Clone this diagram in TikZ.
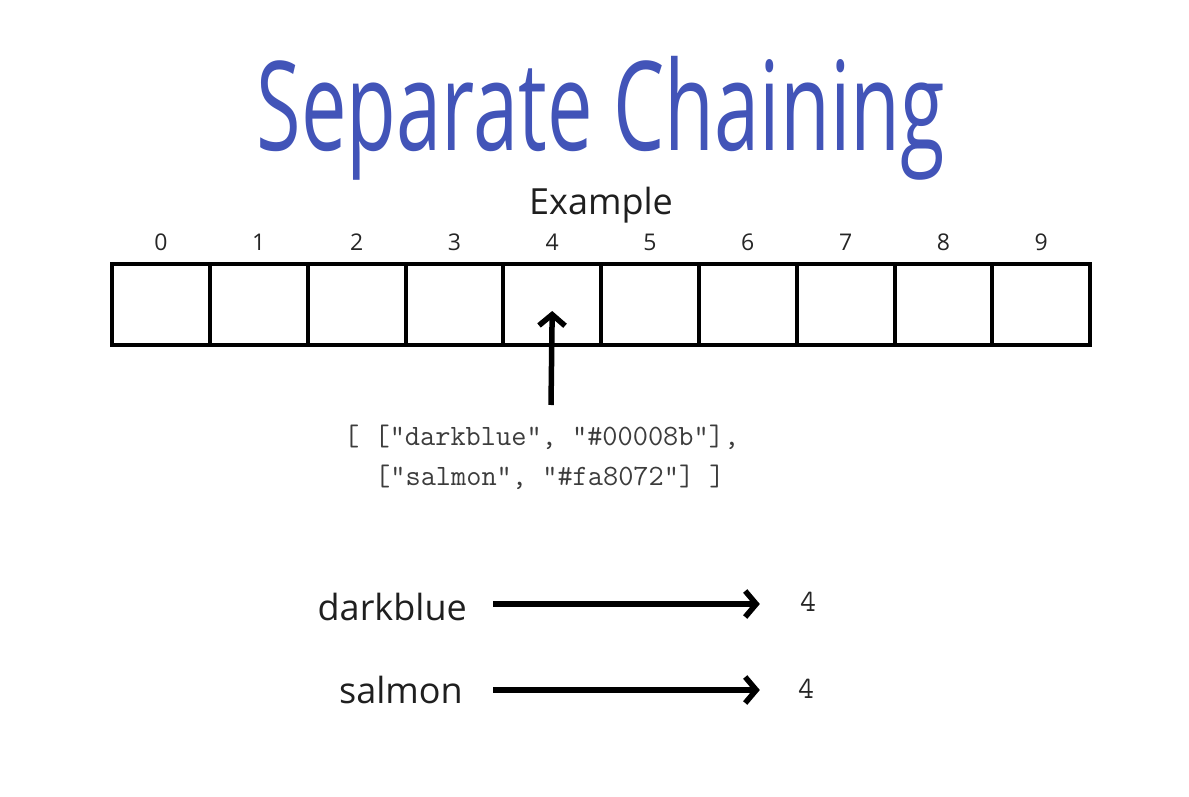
\documentclass[tikz,border=0pt]{standalone}
\usepackage{fontspec}
\setmainfont{Open Sans}
\newfontfamily\titlefont[FakeStretch=0.655]{Open Sans}
\usetikzlibrary{arrows.meta}
\definecolor{titleblue}{RGB}{66,84,184}
\definecolor{codegray}{RGB}{60,60,60}
\tikzset{
  cell/.style={draw=black, line width=4pt, minimum width=97.8pt, minimum height=81pt, inner sep=0pt},
  idx/.style={font=\fontsize{23}{26}\selectfont, text=black!85},
  code/.style={font=\ttfamily\fontsize{29.5}{32}\selectfont, text=codegray, anchor=base west, inner sep=0pt},
  word/.style={font=\fontsize{36}{40}\selectfont, text=black!88, anchor=east, inner sep=0pt},
  num/.style={font=\ttfamily\fontsize{31}{34}\selectfont, text=black!85, inner sep=0pt},
  arr/.style={line width=5.5pt, -{Straight Barb[length=11pt,width=26pt]}}
}
\begin{document}
\begin{tikzpicture}[x=1pt,y=-1pt]
\useasboundingbox (0,0) rectangle (1189,797);
\node[font=\titlefont\fontsize{124}{130}\selectfont, text=titleblue, inner sep=0pt, anchor=base] (title) at (601,150) {Separate Chaining};
\node[font=\fontsize{36}{40}\selectfont, text=black!88, inner sep=0pt, anchor=base] (ex) at (601,214) {Example};
\foreach \i in {0,...,9} {
  \node[cell] (c\i) at ({161+97.8*\i},304.5) {};
  \node[idx, anchor=base] (n\i) at ({161+97.8*\i},250) {\i};
}
\node[code] (code1) at (344,445) {[ ["darkblue", "\#00008b"],};
\node[code] (code2) at (375,485) {["salmon", "\#fa8072"] ]};
\coordinate (tail) at (551,405);
\draw[arr] (tail) -- ([yshift=36pt]c4.south);
\node[word] (w1) at (467,607) {darkblue};
\node[word] (w2) at (463,690) {salmon};
\node[num] (v1) at (808,602) {4};
\node[num] (v2) at (806,689) {4};
\draw[arr] ([xshift=26pt]w1.east |- 0,604) -- ([xshift=-40pt]v1.west |- 0,604);
\draw[arr] ([xshift=30pt]w2.east |- 0,690) -- ([xshift=-38pt]v2.west |- 0,690);
\end{tikzpicture}
\end{document}
